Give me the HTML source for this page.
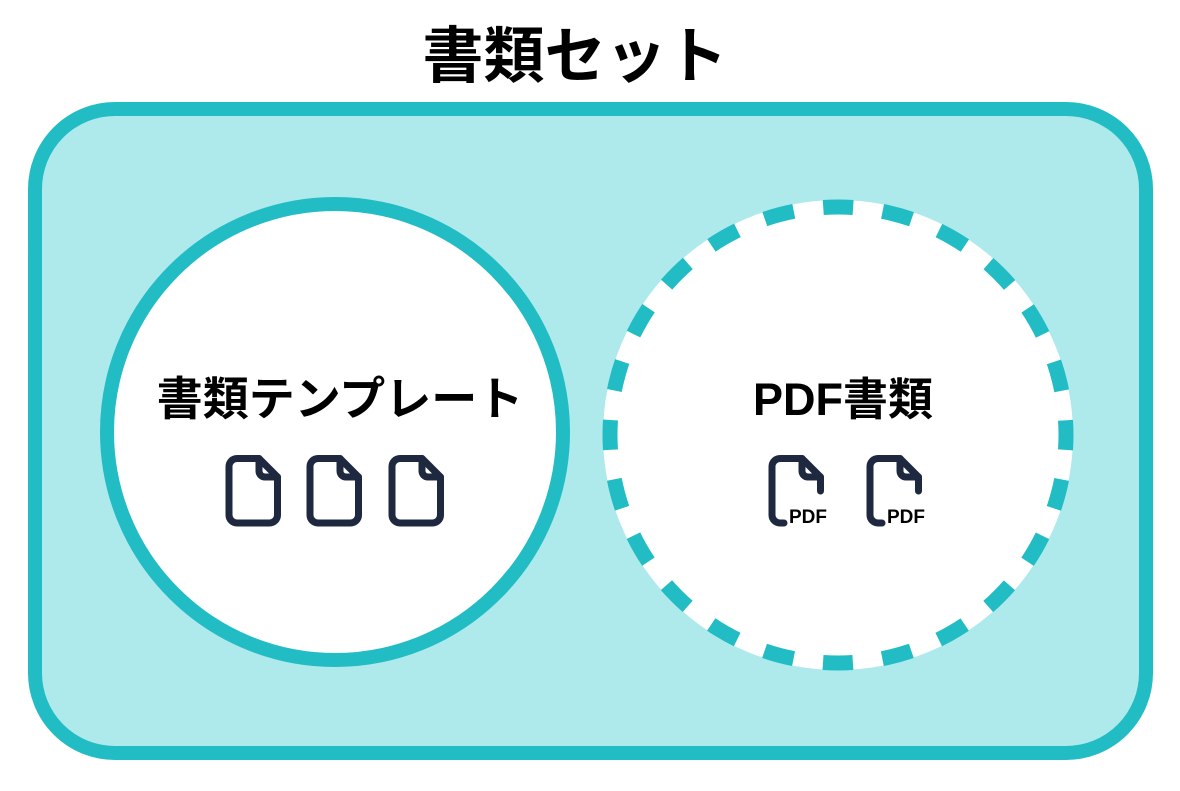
<!DOCTYPE html>
<html><head><meta charset="utf-8"><style>
body{margin:0;width:1180px;height:786px;background:#fff;overflow:hidden}
text{font-family:"Liberation Sans","Noto Sans CJK JP",sans-serif;font-weight:bold;fill:#000}
</style></head><body>
<svg width="1180" height="786" xmlns="http://www.w3.org/2000/svg">
<defs>
<g id="doc" fill="none" stroke="#1e2940" stroke-width="7" stroke-linejoin="round" stroke-linecap="round">
<path d="M12 3.5 H34 L52.5 22 V60 a8 8 0 0 1 -8 8 H12 a8 8 0 0 1 -8 -8 V11.5 a8 8 0 0 1 8 -8 Z"/>
<path d="M34 3.5 V16 a6 6 0 0 0 6 6 H52.5"/>
</g>
<g id="pdf" fill="none" stroke="#1e2940" stroke-width="7" stroke-linejoin="round" stroke-linecap="round">
<path d="M16 68 H12 a8 8 0 0 1 -8 -8 V11.5 a8 8 0 0 1 8 -8 H34 L52.5 22 V36"/>
<path d="M34 3.5 V16 a6 6 0 0 0 6 6 H52.5"/>
</g>
</defs>
<text x="575" y="77" font-size="61" text-anchor="middle">書類セット</text>
<rect x="35" y="109" width="1111" height="644" rx="80" fill="#aeeaec" stroke="#22bcc4" stroke-width="14"/>
<circle cx="335" cy="432" r="228" fill="#fff" stroke="#22bcc4" stroke-width="14"/>
<circle cx="838" cy="435" r="235" fill="#fff"/>
<circle cx="838" cy="435" r="228" fill="none" stroke="#22bcc4" stroke-width="15" stroke-dasharray="30 29.69" stroke-dashoffset="15"/>
<text x="340" y="415" font-size="46" text-anchor="middle">書類テンプレート</text>
<text x="843" y="415" font-size="45" text-anchor="middle">PDF書類</text>
<use href="#doc" x="225" y="455"/>
<use href="#doc" x="306" y="455"/>
<use href="#doc" x="388" y="455"/>
<use href="#pdf" x="768" y="455"/>
<use href="#pdf" x="866" y="455"/>
<text x="808" y="523" font-size="19" text-anchor="middle">PDF</text>
<text x="906" y="523" font-size="19" text-anchor="middle">PDF</text>
</svg>
</body></html>
